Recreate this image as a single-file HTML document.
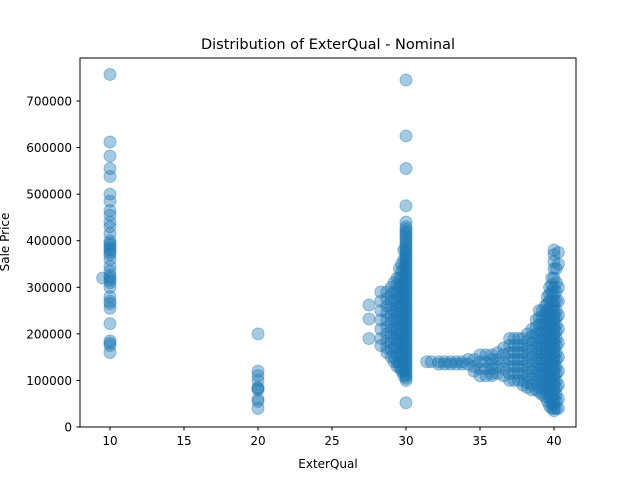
<!DOCTYPE html>
<html><head><meta charset="utf-8"><style>
body{margin:0;background:#fff;font-family:"Liberation Sans","DejaVu Sans",sans-serif}
</style></head><body>
<svg id="chart" width="640" height="480" xmlns="http://www.w3.org/2000/svg" font-family="DejaVu Sans, Liberation Sans, sans-serif">
<rect width="640" height="480" fill="#fff"/>
<text x="328" y="49" text-anchor="middle" font-size="14.5">Distribution of ExterQual - Nominal</text>
<g id="marks"></g>
<rect x="80" y="58" width="496" height="369" fill="none" stroke="#000" stroke-width="1"/>
<g id="axes"></g>
<text x="328" y="468" text-anchor="middle" font-size="12">ExterQual</text>
<text transform="translate(9,242) rotate(-90)" text-anchor="middle" font-size="12">Sale Price</text>
</svg>
<script>
const colX = [10, 9.5, 20, 30, 29.85, 29.7, 29.55, 29.4, 29.2, 29.0, 28.7, 28.3, 27.5,
  31.4, 31.7, 32.2, 32.6, 33.0, 33.4, 33.8, 34.2, 34.6,
  35.0, 35.4, 35.8, 36.2, 36.6, 37.0, 37.3, 37.6, 37.9, 38.2, 38.5, 38.8, 39.0, 39.2, 39.4, 39.55, 39.7, 39.85, 40.0, 40.15, 40.3];
const colY = [
  [757,612,582,555,538,500,485,465,455,440,430,415,400,395,390,385,380,375,370,360,345,335,325,320,315,310,300,280,270,265,255,222,185,180,175,160],
  [320],
  [200,120,110,100,85,82,80,60,55,40],
  [745,625,555,475,440,430,425,420,415,410,405,400,395,390,385,380,375,370,365,360,355,350,345,340,335,330,325,320,315,310,305,300,295,290,285,280,275,270,265,260,255,250,245,240,235,230,225,220,215,210,205,200,195,190,185,180,175,170,165,160,155,150,145,140,135,130,125,120,115,110,105,100,52],
  [380,360,340,320,300,280,260,240,220,200,180,160,140,120,110],
  [350,335,320,305,290,275,260,245,230,215,200,185,170,155,140,125,120],
  [340,320,300,280,260,240,220,200,180,160,140,130],
  [320,305,290,275,260,245,230,215,200,185,170,155,140,130],
  [310,290,270,250,230,210,190,170,150,140],
  [300,285,270,255,240,225,210,195,180,165,150],
  [290,275,260,245,230,215,200,185,170,160],
  [290,270,250,230,210,190,175],
  [262,232,190],
  [140],[140],[140,135],[140,135],[140,135],[140,135],[140,135],[145,135],[145,130,120],
  [155,140,125,110],[155,140,125,110],[155,145,135,125,115,110],[160,145,130,115],[170,155,140,125,110],
  [190,175,160,145,130,115,100],[190,175,160,145,130,115,100],[190,175,160,145,130,115,100],
  [190,175,160,145,130,115,100,90],[200,185,170,155,140,125,110,95,85],[210,195,180,165,150,135,120,105,90,80],
  [230,215,200,185,170,155,140,125,110,95,80],[250,235,220,205,190,175,160,145,130,115,100,85,75],
  [250,235,220,205,190,175,160,145,130,115,100,85,70],
  [260,245,230,215,200,185,170,155,140,125,110,95,80,65],
  [280,265,250,235,220,205,190,175,160,145,130,115,100,85,70,55],
  [300,285,270,255,240,225,210,195,180,165,150,135,120,105,90,75,60,45],
  [320,305,290,275,260,245,230,215,200,185,170,155,140,125,110,95,80,65,50,40],
  [380,370,355,340,320,300,285,270,260,250,240,230,220,210,200,190,180,170,160,150,140,130,120,110,100,90,80,70,60,50,40,35],
  [340,310,290,270,250,235,220,205,190,175,160,145,130,115,100,85,70,55,40],
  [375,350,300,270,240,210,180,150,120,90,60,40]
];
const xTicks = [10,15,20,25,30,35,40];
const yTicks = [0,100000,200000,300000,400000,500000,600000,700000];
const sx = v => 110 + (v - 10) * 14.8;
const sy = v => 427 - v * 0.0004657;
const NS = "http://www.w3.org/2000/svg";
const marks = document.getElementById('marks');
colX.forEach((x, i) => {
  colY[i].forEach(y => {
    const c = document.createElementNS(NS, 'circle');
    c.setAttribute('cx', sx(x));
    c.setAttribute('cy', sy(y * 1000));
    c.setAttribute('r', 6);
    c.setAttribute('fill', '#1f77b4');
    c.setAttribute('fill-opacity', 0.4);
    c.setAttribute('stroke', '#1f77b4');
    c.setAttribute('stroke-opacity', 0.4);
    c.setAttribute('stroke-width', 1);
    
    
    marks.appendChild(c);
  });
});
const axes = document.getElementById('axes');
xTicks.forEach(t => {
  const l = document.createElementNS(NS, 'line');
  l.setAttribute('x1', sx(t)); l.setAttribute('x2', sx(t));
  l.setAttribute('y1', 427); l.setAttribute('y2', 430.5);
  l.setAttribute('stroke', '#000');
  
  
  axes.appendChild(l);
  const tx = document.createElementNS(NS, 'text');
  tx.setAttribute('x', sx(t)); tx.setAttribute('y', 445);
  tx.setAttribute('text-anchor', 'middle'); tx.setAttribute('font-size', '12');
  tx.textContent = t;
  
  
  axes.appendChild(tx);
});
yTicks.forEach(t => {
  const l = document.createElementNS(NS, 'line');
  l.setAttribute('x1', 76.5); l.setAttribute('x2', 80);
  l.setAttribute('y1', sy(t)); l.setAttribute('y2', sy(t));
  l.setAttribute('stroke', '#000');
  
  
  axes.appendChild(l);
  const tx = document.createElementNS(NS, 'text');
  tx.setAttribute('x', 72); tx.setAttribute('y', sy(t) + 4.5);
  tx.setAttribute('text-anchor', 'end'); tx.setAttribute('font-size', '12');
  tx.textContent = t;
  
  
  axes.appendChild(tx);
});
</script>
</body></html>
